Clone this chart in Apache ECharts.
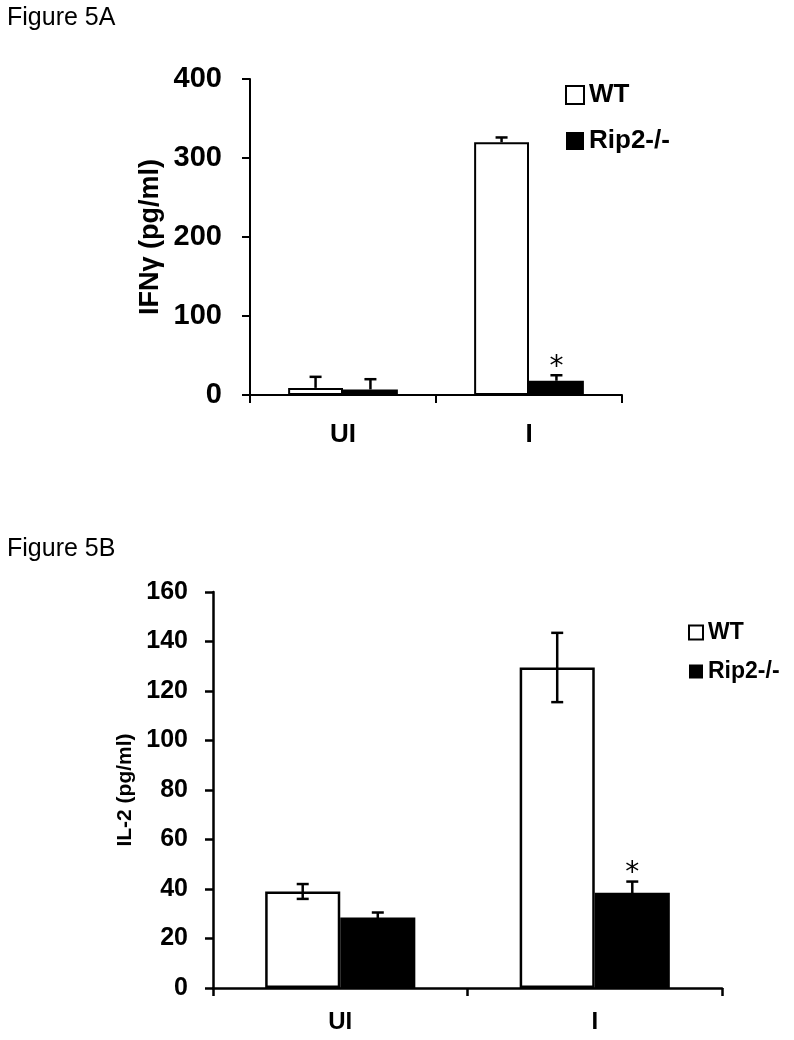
<!DOCTYPE html>
<html>
<head>
<meta charset="utf-8">
<title>Figure 5</title>
<script src="https://cdn.jsdelivr.net/npm/echarts@6/dist/echarts.min.js"></script>
<style>
html, body { margin: 0; padding: 0; background: #fff; }
#main { width: 794px; height: 1040px; }
</style>
</head>
<body>
<div id="main"></div>
<script type="text/javascript">
// categories and series names
var cats = ['UI', 'I'];
var names = ['WT', 'Rip2-/-'];

// Figure 5A : IFNγ (pg/ml), upper error bars only
var wtA = [9, 320];
var wtErrA = [14, 6];
var ripA = [7, 18];
var ripErrA = [13, 7];
var starA = [0, 1];   // asterisk over Rip2-/- bar
var ticksA = [0, 400, 100];

// Figure 5B : IL-2 (pg/ml), error bars both ways
var wtB = [39, 129.5];
var wtErrB = [3, 14];
var ripB = [28.5, 38.5];
var ripErrB = [2, 4.5];
var starB = [0, 1];
var ticksB = [0, 160, 20];

var FONT = 'Liberation Sans, Arial, sans-serif';
var GAP = 0.41; // barCategoryGap as fraction

function errData(vals, errs, side, stars) {
	var out = [];
	for (var i = 0; i < vals.length; i++) {
		out.push([i, vals[i], errs[i], side, stars ? stars[i] : 0]);
	}
	return out;
}

// draws error bars (and the asterisk) for one bar series
function makeErrRender(upperOnly, lw, capW, starSize) {
	return function (params, api) {
		var x = api.value(0), m = api.value(1), e = api.value(2);
		var side = api.value(3), star = api.value(4);
		var band = api.size([1, 0])[0];
		var bw = band * (1 - GAP) / 2;
		var c = api.coord([x, m]);
		var cx = c[0] + side * bw / 2;
		var top = api.coord([x, m + e])[1];
		var bot = upperOnly ? c[1] : api.coord([x, m - e])[1];
		var st = { stroke: '#000', lineWidth: lw };
		var kids = [
			{ type: 'line', shape: { x1: cx, y1: bot, x2: cx, y2: top }, style: st },
			{ type: 'line', shape: { x1: cx - capW / 2, y1: top, x2: cx + capW / 2, y2: top }, style: st }
		];
		if (!upperOnly) {
			kids.push({ type: 'line', shape: { x1: cx - capW / 2, y1: bot, x2: cx + capW / 2, y2: bot }, style: st });
		}
		if (star) {
			kids.push({
				type: 'text',
				style: {
					text: '*', x: cx, y: top + 6, fill: '#000',
					font: 'normal ' + starSize + 'px DejaVu Sans',
					textAlign: 'center', textVerticalAlign: 'bottom'
				}
			});
		}
		return { type: 'group', children: kids };
	};
}

function yAxisCfg(idx, t, name, nameSize, nameGap, labSize, labMargin, lw) {
	return {
		type: 'value', gridIndex: idx, min: t[0], max: t[1], interval: t[2],
		name: name, nameLocation: 'middle', nameGap: nameGap,
		nameTextStyle: { fontFamily: FONT, fontWeight: 'bold', fontSize: nameSize, color: '#000' },
		axisLine: { show: true, lineStyle: { color: '#000', width: lw } },
		axisTick: { show: true, length: 8, lineStyle: { color: '#000', width: lw } },
		splitLine: { show: false },
		axisLabel: { fontFamily: FONT, fontWeight: 'bold', fontSize: labSize, color: '#000', margin: labMargin }
	};
}

function xAxisCfg(idx, labSize, labMargin, lw) {
	return {
		type: 'category', gridIndex: idx, data: cats,
		axisLine: { lineStyle: { color: '#000', width: lw } },
		axisTick: { show: true, length: 8, lineStyle: { color: '#000', width: lw } },
		axisLabel: { fontFamily: FONT, fontWeight: 'bold', fontSize: labSize, color: '#000', margin: labMargin }
	};
}

function legendCfg(left, top, size, fontSize, gap) {
	return {
		orient: 'vertical', left: left, top: top,
		itemWidth: size, itemHeight: size, itemGap: gap,
		icon: 'rect', selectedMode: false,
		textStyle: { fontFamily: FONT, fontWeight: 'bold', fontSize: fontSize, color: '#000' },
		data: [
			{ name: names[0], itemStyle: { color: '#fff', borderColor: '#000', borderWidth: 2 } },
			{ name: names[1], itemStyle: { color: '#000', borderColor: '#000', borderWidth: 0 } }
		]
	};
}

function barCfg(idx, name, vals, fill, bw) {
	return {
		type: 'bar', name: name, xAxisIndex: idx, yAxisIndex: idx, data: vals,
		barGap: '0%', barCategoryGap: (GAP * 100) + '%',
		itemStyle: { color: fill, borderColor: '#000', borderWidth: bw },
		emphasis: { disabled: true }, animation: false
	};
}

function errCfg(idx, data, upperOnly, lw, starSize) {
	return {
		type: 'custom', xAxisIndex: idx, yAxisIndex: idx, data: data, z: 5,
		renderItem: makeErrRender(upperOnly, lw, 12, starSize), animation: false
	};
}

var chart = echarts.init(document.getElementById('main'));
chart.setOption({
	backgroundColor: '#fff',
	animation: false,
	title: [
		{ text: 'Figure 5A', left: 2, top: 1, textStyle: { fontFamily: FONT, fontWeight: 'normal', fontSize: 25, color: '#000' } },
		{ text: 'Figure 5B', left: 2, top: 532, textStyle: { fontFamily: FONT, fontWeight: 'normal', fontSize: 25, color: '#000' } }
	],
	legend: [
		legendCfg(560, 77, 18, 26, 20),
		legendCfg(683, 616, 14, 23, 16)
	],
	grid: [
		{ left: 250, top: 79, width: 372, height: 316 },
		{ left: 213, top: 592, width: 509, height: 396 }
	],
	xAxis: [xAxisCfg(0, 26, 27, 2), xAxisCfg(1, 24, 22, 2.5)],
	yAxis: [
		yAxisCfg(0, ticksA, 'IFNγ (pg/ml)', 27, 86, 29, 28, 2),
		yAxisCfg(1, ticksB, 'IL-2 (pg/ml)', 21, 72, 25, 25, 2.5)
	],
	series: [
		barCfg(0, names[0], wtA, '#fff', 2),
		barCfg(0, names[1], ripA, '#000', 2),
		errCfg(0, errData(wtA, wtErrA, -1, null), true, 2.5, 28),
		errCfg(0, errData(ripA, ripErrA, 1, starA), true, 2.5, 28),
		barCfg(1, names[0], wtB, '#fff', 2.5),
		barCfg(1, names[1], ripB, '#000', 2.5),
		errCfg(1, errData(wtB, wtErrB, -1, null), false, 2.5, 28),
		errCfg(1, errData(ripB, ripErrB, 1, starB), false, 2.5, 28)
	]
});
</script>
</body>
</html>
